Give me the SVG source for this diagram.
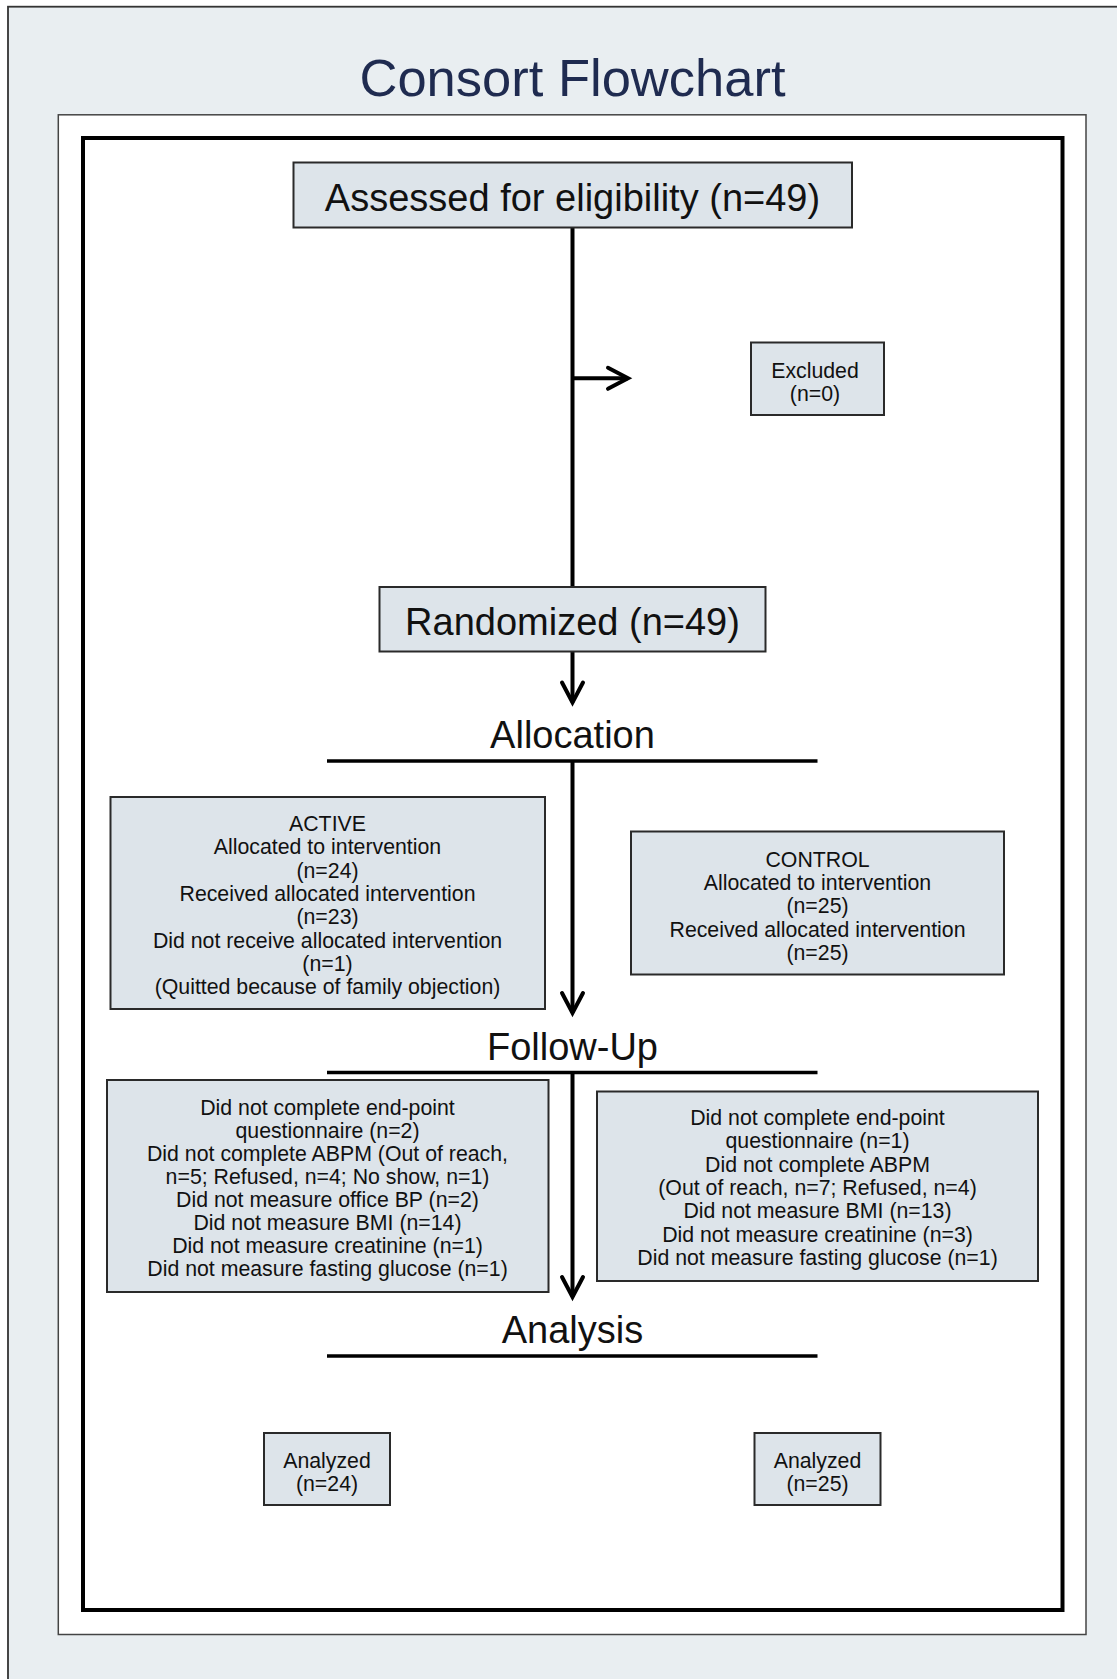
<svg xmlns="http://www.w3.org/2000/svg" width="1117" height="1679" viewBox="0 0 1117 1679">
<style>
  .box { fill: #dde4ea; stroke: #2a2a2a; stroke-width: 2; }
  .t { font-family: "Liberation Sans", Arial, Helvetica, sans-serif; fill: #111; text-anchor: middle; }
  .big { font-size: 38px; }
  .sm { font-size: 21.3px; }
  .title { font-family: "Liberation Sans", Arial, Helvetica, sans-serif; font-size: 52.5px; fill: #1f2b50; text-anchor: middle; }
  .conn { stroke: #000; stroke-width: 4; fill: none; }
  .rule { stroke: #000; stroke-width: 3.5; }
</style>
<defs>
  <marker id="ah" markerUnits="userSpaceOnUse" markerWidth="40" markerHeight="40" viewBox="-30 -20 40 40" refX="0" refY="0" orient="auto" overflow="visible">
    <path d="M-20,-10.5 L0,0 L-20,10.5" fill="none" stroke="#000" stroke-width="4" stroke-linejoin="miter" stroke-linecap="round"/>
  </marker>
</defs>

<g id="background">
  <rect x="0" y="0" width="1117" height="1679" fill="#ffffff"/>
  <rect x="8" y="6.7" width="1130" height="1700" fill="#e9eef1" stroke="#333" stroke-width="1.8"/>
  <text class="title" x="572.5" y="95.7">Consort Flowchart</text>
  <rect x="58.3" y="114.8" width="1027.7" height="1519.7" fill="#ffffff" stroke="#444" stroke-width="1.5"/>
  <rect x="83" y="138" width="979.5" height="1472" fill="none" stroke="#000" stroke-width="4"/>
</g>

<g id="connectors">
  <line class="conn" x1="572.5" y1="227.5" x2="572.5" y2="587"/>
  <line class="conn" x1="572.5" y1="378.3" x2="628" y2="378.3" marker-end="url(#ah)"/>
  <line class="conn" x1="572.5" y1="651.5" x2="572.5" y2="702.5" marker-end="url(#ah)"/>
  <line class="conn" x1="572.5" y1="761" x2="572.5" y2="1013" marker-end="url(#ah)"/>
  <line class="conn" x1="572.5" y1="1072.5" x2="572.5" y2="1297" marker-end="url(#ah)"/>
</g>

<g id="assessed">
  <rect class="box" x="293.5" y="162.5" width="558.5" height="65"/>
  <text class="t big" x="572.5" y="210.7">Assessed for eligibility (n=49)</text>
</g>

<g id="excluded">
  <rect class="box" x="751" y="342.5" width="133" height="72.5"/>
  <text class="t sm" x="815" y="377.7">Excluded</text>
  <text class="t sm" x="815" y="400.5">(n=0)</text>
</g>

<g id="randomized">
  <rect class="box" x="379.5" y="587" width="386" height="64.5"/>
  <text class="t big" x="572.5" y="635">Randomized (n=49)</text>
</g>

<g id="allocation">
  <text class="t big" x="572.5" y="747.7">Allocation</text>
  <line class="rule" x1="327" y1="761" x2="817.5" y2="761"/>
</g>

<g id="active">
  <rect class="box" x="110.5" y="797" width="434.5" height="212"/>
  <text class="t sm" x="327.5" y="831">ACTIVE</text>
  <text class="t sm" x="327.5" y="854.3">Allocated to intervention</text>
  <text class="t sm" x="327.5" y="877.6">(n=24)</text>
  <text class="t sm" x="327.5" y="900.9">Received allocated intervention</text>
  <text class="t sm" x="327.5" y="924.2">(n=23)</text>
  <text class="t sm" x="327.5" y="947.5">Did not receive allocated intervention</text>
  <text class="t sm" x="327.5" y="970.8">(n=1)</text>
  <text class="t sm" x="327.5" y="994.1">(Quitted because of family objection)</text>
</g>

<g id="control">
  <rect class="box" x="631" y="831.5" width="373" height="143"/>
  <text class="t sm" x="817.5" y="866.7">CONTROL</text>
  <text class="t sm" x="817.5" y="890">Allocated to intervention</text>
  <text class="t sm" x="817.5" y="913.3">(n=25)</text>
  <text class="t sm" x="817.5" y="936.6">Received allocated intervention</text>
  <text class="t sm" x="817.5" y="959.9">(n=25)</text>
</g>

<g id="followup">
  <text class="t big" x="572.5" y="1060">Follow-Up</text>
  <line class="rule" x1="327" y1="1072.5" x2="817.5" y2="1072.5"/>
</g>

<g id="followup-active">
  <rect class="box" x="107" y="1080" width="441.5" height="212"/>
  <text class="t sm" x="327.5" y="1115">Did not complete end-point</text>
  <text class="t sm" x="327.5" y="1138">questionnaire (n=2)</text>
  <text class="t sm" x="327.5" y="1161">Did not complete ABPM (Out of reach,</text>
  <text class="t sm" x="327.5" y="1184">n=5; Refused, n=4; No show, n=1)</text>
  <text class="t sm" x="327.5" y="1207">Did not measure office BP (n=2)</text>
  <text class="t sm" x="327.5" y="1230">Did not measure BMI (n=14)</text>
  <text class="t sm" x="327.5" y="1253">Did not measure creatinine (n=1)</text>
  <text class="t sm" x="327.5" y="1276">Did not measure fasting glucose (n=1)</text>
</g>

<g id="followup-control">
  <rect class="box" x="597" y="1091.5" width="441" height="189.5"/>
  <text class="t sm" x="817.5" y="1125">Did not complete end-point</text>
  <text class="t sm" x="817.5" y="1148.3">questionnaire (n=1)</text>
  <text class="t sm" x="817.5" y="1171.6">Did not complete ABPM</text>
  <text class="t sm" x="817.5" y="1194.9">(Out of reach, n=7; Refused, n=4)</text>
  <text class="t sm" x="817.5" y="1218.2">Did not measure BMI (n=13)</text>
  <text class="t sm" x="817.5" y="1241.5">Did not measure creatinine (n=3)</text>
  <text class="t sm" x="817.5" y="1264.8">Did not measure fasting glucose (n=1)</text>
</g>

<g id="analysis">
  <text class="t big" x="572.5" y="1343">Analysis</text>
  <line class="rule" x1="327" y1="1356" x2="817.5" y2="1356"/>
</g>

<g id="analyzed-active">
  <rect class="box" x="264" y="1433" width="126" height="72"/>
  <text class="t sm" x="327" y="1467.5">Analyzed</text>
  <text class="t sm" x="327" y="1490.8">(n=24)</text>
</g>

<g id="analyzed-control">
  <rect class="box" x="754.5" y="1433" width="126" height="72"/>
  <text class="t sm" x="817.5" y="1467.5">Analyzed</text>
  <text class="t sm" x="817.5" y="1490.8">(n=25)</text>
</g>
</svg>
